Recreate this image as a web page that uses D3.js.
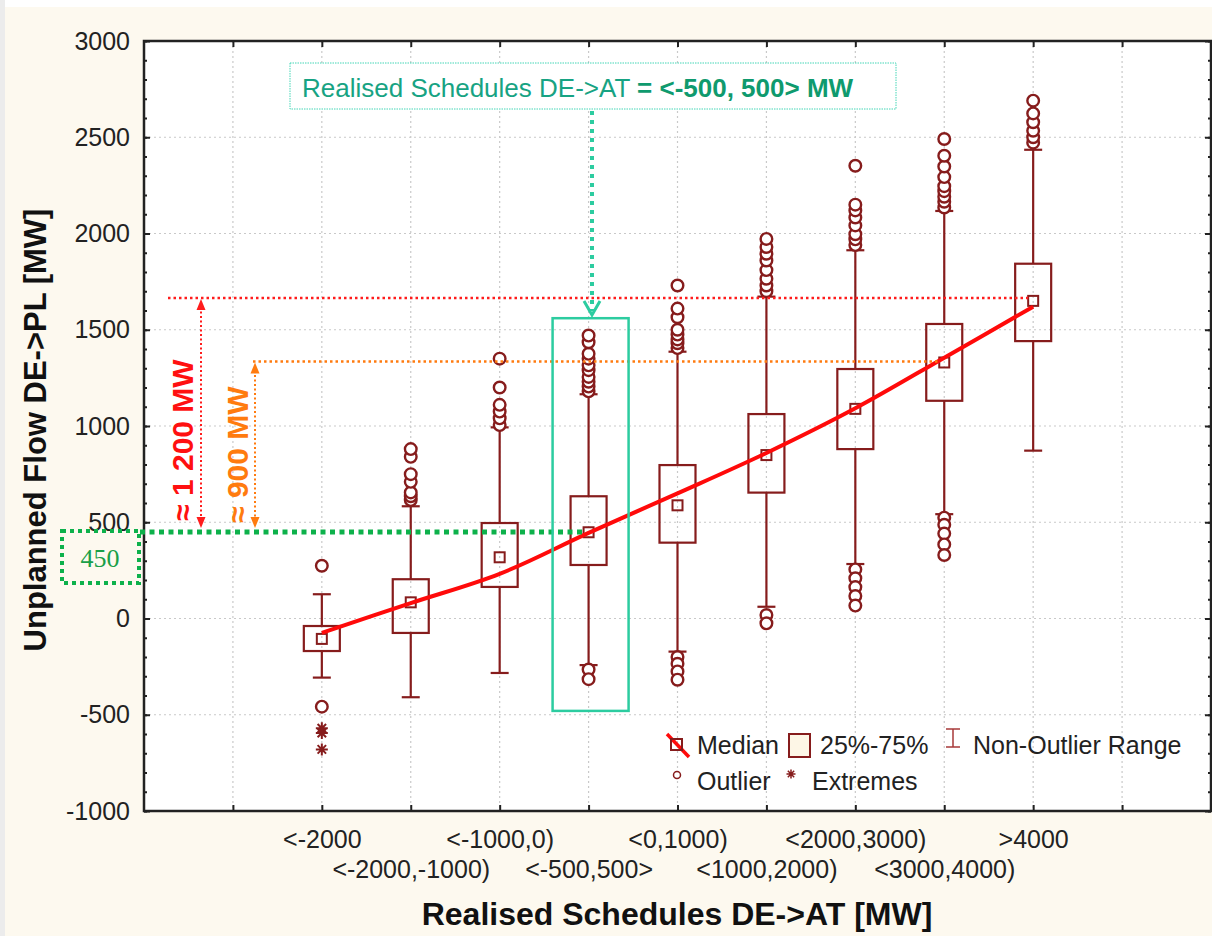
<!DOCTYPE html>
<html>
<head>
<meta charset="utf-8">
<script src="https://cdn.jsdelivr.net/npm/d3@7"></script>
<style>
body { margin: 0; background: #fff; }
svg { display: block; font-family: "Liberation Sans", Arial, sans-serif; }
</style>
</head>
<body>
<div id="chart"></div>
<script>
// categories of realised schedules DE->AT
var categories = ["<-2000", "<-2000,-1000)", "<-1000,0)", "<-500,500>", "<0,1000)",
                  "<1000,2000)", "<2000,3000)", "<3000,4000)", ">4000"];

// box statistics, MW
var lowerQuartile = [-169, -75, 164, 278, 394, 654, 880, 1131, 1441];
var upperQuartile = [-39, 204, 496, 635, 797, 1062, 1296, 1530, 1843];
var medians = [-106, 84, 318, 448, 588, 849, 1089, 1330, 1650];
var whiskerLow = [-307, -409, -283, -242, -172, 61, 283, 542, 872];
var whiskerHigh = [126, 583, 993, 1165, 1386, 1672, 1913, 2117, 2435];

var outliers = [
    [274, -458],
    [615, 635, 655, 710, 750, 840, 880],
    [1005, 1040, 1075, 1110, 1200, 1350],
    [1180, 1205, 1230, 1255, 1290, 1315, 1350, 1375, 1435, 1470, -265, -315],
    [1405, 1430, 1450, 1475, 1500, 1565, 1610, 1730, -200, -235, -275, -318],
    [1700, 1730, 1765, 1810, 1860, 1895, 1930, 1972, 18, -25],
    [1940, 1970, 1996, 2042, 2083, 2120, 2150, 2352, 255, 209, 163, 117, 67],
    [2135, 2165, 2191, 2220, 2246, 2293, 2348, 2404, 2491, 524, 487, 441, 385, 330],
    [2472, 2500, 2534, 2578, 2624, 2690]
];
var extremes = [[-570, -595, -680], [], [], [], [], [], [], [], []];

// smoothed median trend (red line)
var medianTrend = [-75, 80, 232, 445, 650, 860, 1092, 1355, 1620];

var yTicks = [-1000, -500, 0, 500, 1000, 1500, 2000, 2500, 3000];

// reference levels for the annotations
var refTop = 1665;
var refMid = 1335;
var refLow = 450;

var maroon = "#861c1c";
var teal = "#2ccca0";
var green = "#0db14b";

var svg = d3.select("#chart")
            .append("svg")
            .attr("width", 1212)
            .attr("height", 936);

// background
svg.append("rect").attr("width", 1212).attr("height", 936).attr("fill", "#fdf9ef");
svg.append("rect").attr("width", 1212).attr("height", 7).attr("fill", "#ffffff");
svg.append("rect").attr("width", 5).attr("height", 936).attr("fill", "#ececec");

var x = d3.scaleLinear().domain([-2, 10]).range([144, 1211]);
var y = d3.scaleLinear().domain([-1000, 3000]).range([811, 41]);

svg.append("rect")
    .attr("x", 144).attr("y", 41)
    .attr("width", 1067).attr("height", 770)
    .attr("fill", "#ffffff");

// grid
var grid = svg.append("g")
    .attr("stroke", "#c9c9c9")
    .attr("stroke-width", 1.2)
    .attr("stroke-dasharray", "2,3");
grid.selectAll("line.v")
    .data(d3.range(-1, 10))
    .enter().append("line")
    .attr("class", "v")
    .attr("x1", function (d) { return x(d); })
    .attr("x2", function (d) { return x(d); })
    .attr("y1", 41).attr("y2", 811);
grid.selectAll("line.h")
    .data(yTicks.slice(1, -1))
    .enter().append("line")
    .attr("class", "h")
    .attr("y1", function (d) { return y(d); })
    .attr("y2", function (d) { return y(d); })
    .attr("x1", 144).attr("x2", 1211);

// axes
function styleAxis(g) {
    g.select(".domain").remove();
    g.selectAll(".tick line").attr("stroke", "#222").attr("stroke-width", 2);
    g.selectAll(".tick text").attr("fill", "#222").style("font-size", "25px")
        .style("font-family", "'Liberation Sans', Arial, sans-serif");
}

var minorTicks = d3.range(-1000, 3001, 100);

svg.append("g").attr("transform", "translate(144,0)")
    .call(d3.axisLeft(y).tickValues(minorTicks).tickSize(-3).tickFormat(""))
    .call(styleAxis);
svg.append("g").attr("transform", "translate(144,0)")
    .call(d3.axisLeft(y).tickValues(yTicks).tickSizeInner(-6).tickSizeOuter(0).tickPadding(14)
        .tickFormat(function (d) { return String(d); }))
    .call(styleAxis);
svg.append("g").attr("transform", "translate(1211,0)")
    .call(d3.axisRight(y).tickValues(minorTicks).tickSize(-3).tickFormat(""))
    .call(styleAxis);
svg.append("g").attr("transform", "translate(1211,0)")
    .call(d3.axisRight(y).tickValues(yTicks).tickSize(-6).tickFormat(""))
    .call(styleAxis);
svg.append("g").attr("transform", "translate(0,41)")
    .call(d3.axisTop(x).tickValues(d3.range(-1, 10)).tickSize(-6).tickFormat(""))
    .call(styleAxis);

var xAxis = svg.append("g").attr("transform", "translate(0,811)")
    .call(d3.axisBottom(x).tickValues(d3.range(-1, 10)).tickSizeInner(-6).tickSizeOuter(0)
        .tickPadding(19)
        .tickFormat(function (d) { return categories[d] || ""; }))
    .call(styleAxis);
xAxis.selectAll(".tick text")
    .attr("y", function (d) { return d % 2 ? 49 : 19; });

// frame
svg.append("rect")
    .attr("x", 144).attr("y", 41)
    .attr("width", 1067).attr("height", 770)
    .attr("fill", "none")
    .attr("stroke", "#222")
    .attr("stroke-width", 2.5);

// axis titles
svg.append("text")
    .attr("x", 677).attr("y", 925)
    .attr("text-anchor", "middle")
    .style("font-size", "32px").style("font-weight", "bold")
    .attr("fill", "#111")
    .text("Realised Schedules DE->AT [MW]");
svg.append("text")
    .attr("transform", "translate(46,430) rotate(-90)")
    .attr("text-anchor", "middle")
    .style("font-size", "31px").style("font-weight", "bold")
    .attr("fill", "#111")
    .text("Unplanned Flow DE->PL [MW]");

// box plots
var boxW = 36, capW = 18, sq = 10;
var boxes = svg.selectAll("g.box")
    .data(categories)
    .enter().append("g")
    .attr("class", "box")
    .attr("stroke", maroon)
    .attr("stroke-width", 2.2)
    .attr("fill", "none");

boxes.append("line")
    .attr("x1", function (d, i) { return x(i); })
    .attr("x2", function (d, i) { return x(i); })
    .attr("y1", function (d, i) { return y(upperQuartile[i]); })
    .attr("y2", function (d, i) { return y(whiskerHigh[i]); });
boxes.append("line")
    .attr("x1", function (d, i) { return x(i); })
    .attr("x2", function (d, i) { return x(i); })
    .attr("y1", function (d, i) { return y(lowerQuartile[i]); })
    .attr("y2", function (d, i) { return y(whiskerLow[i]); });
boxes.append("line")
    .attr("x1", function (d, i) { return x(i) - capW / 2; })
    .attr("x2", function (d, i) { return x(i) + capW / 2; })
    .attr("y1", function (d, i) { return y(whiskerHigh[i]); })
    .attr("y2", function (d, i) { return y(whiskerHigh[i]); });
boxes.append("line")
    .attr("x1", function (d, i) { return x(i) - capW / 2; })
    .attr("x2", function (d, i) { return x(i) + capW / 2; })
    .attr("y1", function (d, i) { return y(whiskerLow[i]); })
    .attr("y2", function (d, i) { return y(whiskerLow[i]); });
boxes.append("rect")
    .attr("x", function (d, i) { return x(i) - boxW / 2; })
    .attr("width", boxW)
    .attr("y", function (d, i) { return y(upperQuartile[i]); })
    .attr("height", function (d, i) { return y(lowerQuartile[i]) - y(upperQuartile[i]); });

boxes.each(function (d, i) {
    d3.select(this).selectAll("circle")
        .data(outliers[i])
        .enter().append("circle")
        .attr("cx", x(i))
        .attr("cy", function (v) { return y(v); })
        .attr("r", 5.8)
        .attr("stroke-width", 2.4)
        .attr("fill", "#fff");
    d3.select(this).selectAll("path.ext")
        .data(extremes[i])
        .enter().append("path")
        .attr("class", "ext")
        .attr("stroke-width", 2)
        .attr("d", function (v) { return star(x(i), y(v), 6); });
});

function star(cx, cy, r) {
    var p = d3.path();
    var k = r * 0.7071;
    p.moveTo(cx, cy - r); p.lineTo(cx, cy + r);
    p.moveTo(cx - r, cy); p.lineTo(cx + r, cy);
    p.moveTo(cx - k, cy - k); p.lineTo(cx + k, cy + k);
    p.moveTo(cx - k, cy + k); p.lineTo(cx + k, cy - k);
    return p.toString();
}

// median trend line
var trend = d3.line()
    .x(function (d, i) { return x(i); })
    .y(function (d) { return y(d); })
    .curve(d3.curveCatmullRom);
svg.append("path")
    .datum(medianTrend)
    .attr("d", trend)
    .attr("fill", "none")
    .attr("stroke", "#ff0a0a")
    .attr("stroke-width", 4);

boxes.append("rect")
    .attr("x", function (d, i) { return x(i) - sq / 2; })
    .attr("y", function (d, i) { return y(medians[i]) - sq / 2; })
    .attr("width", sq).attr("height", sq)
    .attr("stroke-width", 2);

// annotations: reference levels
svg.append("line")
    .attr("x1", 168).attr("x2", x(8) - 5)
    .attr("y1", y(refTop)).attr("y2", y(refTop))
    .attr("stroke", "#ff1c1c").attr("stroke-width", 2.5).attr("stroke-dasharray", "2.5,3");
svg.append("line")
    .attr("x1", 253).attr("x2", x(7) - 5)
    .attr("y1", y(refMid)).attr("y2", y(refMid))
    .attr("stroke", "#ff7b0f").attr("stroke-width", 2.5).attr("stroke-dasharray", "2.5,3");

function dottedArrow(ax, yTop, yBot, color) {
    svg.append("line")
        .attr("x1", ax).attr("x2", ax)
        .attr("y1", yTop + 8).attr("y2", yBot - 8)
        .attr("stroke", color).attr("stroke-width", 2).attr("stroke-dasharray", "2,2.5");
    svg.append("path")
        .attr("d", "M" + ax + "," + yTop + "l-4.5,11h9z")
        .attr("fill", color);
    svg.append("path")
        .attr("d", "M" + ax + "," + yBot + "l-4.5,-11h9z")
        .attr("fill", color);
}
dottedArrow(201, y(refTop) + 1, y(refLow) - 4, "#ff1c1c");
dottedArrow(255, y(refMid) + 1, y(refLow) - 4, "#ff7b0f");

svg.append("text")
    .attr("transform", "translate(193," + (y(refLow) - 11) + ") rotate(-90)")
    .style("font-size", "30px").style("font-weight", "bold")
    .attr("fill", "#ff1010")
    .text("\u2248 1 200 MW");
svg.append("text")
    .attr("transform", "translate(248," + (y(refLow) - 9) + ") rotate(-90)")
    .style("font-size", "30px").style("font-weight", "bold")
    .attr("fill", "#ff7b0f")
    .text("\u2248 900 MW");

// 450 level
svg.append("line")
    .attr("x1", 140).attr("x2", x(3) - 6)
    .attr("y1", y(refLow)).attr("y2", y(refLow))
    .attr("stroke", green).attr("stroke-width", 5).attr("stroke-dasharray", "5,4.5");
svg.append("rect")
    .attr("x", 62).attr("y", y(refLow) - 1)
    .attr("width", 77).attr("height", 52)
    .attr("fill", "none")
    .attr("stroke", green).attr("stroke-width", 4).attr("stroke-dasharray", "4,4");
svg.append("text")
    .attr("x", 100).attr("y", y(refLow) + 35)
    .attr("text-anchor", "middle")
    .style("font-family", "'Liberation Serif', 'Times New Roman', serif")
    .style("font-size", "26px")
    .attr("fill", "#1a9f48")
    .text(refLow);

// highlighted category
svg.append("rect")
    .attr("x", x(3) - 36).attr("width", 76)
    .attr("y", y(1560)).attr("height", y(-480) - y(1560))
    .attr("fill", "none")
    .attr("stroke", teal).attr("stroke-width", 2.5);

svg.append("rect")
    .attr("x", 290).attr("y", 63)
    .attr("width", 606).attr("height", 46)
    .attr("fill", "#fff")
    .attr("stroke", "#45d6b6").attr("stroke-width", 1).attr("stroke-dasharray", "1.5,1");
var note = svg.append("text")
    .attr("x", 302).attr("y", 97)
    .style("font-size", "26px");
note.append("tspan").attr("fill", "#17a383").text("Realised Schedules DE->AT ");
note.append("tspan").attr("fill", "#0f9a6e").style("font-weight", "bold").text("= <-500, 500> MW");

svg.append("line")
    .attr("x1", 592).attr("x2", 592)
    .attr("y1", 111).attr("y2", 311)
    .attr("stroke", teal).attr("stroke-width", 4).attr("stroke-dasharray", "4,5");
svg.append("path")
    .attr("d", "M584,301L592,315L600,301")
    .attr("fill", "none")
    .attr("stroke", teal).attr("stroke-width", 3);

// legend
var legend = svg.append("g").style("font-size", "25px").attr("fill", "#222");
legend.append("line")
    .attr("x1", 667).attr("y1", 734).attr("x2", 689).attr("y2", 757)
    .attr("stroke", "#ff0a0a").attr("stroke-width", 3.5);
legend.append("rect")
    .attr("x", 671).attr("y", 739).attr("width", 11).attr("height", 11)
    .attr("fill", "none").attr("stroke", maroon).attr("stroke-width", 2);
legend.append("text").attr("x", 697).attr("y", 754).text("Median");
legend.append("rect")
    .attr("x", 789).attr("y", 734).attr("width", 21).attr("height", 23)
    .attr("fill", "#fdf6e6").attr("stroke", maroon).attr("stroke-width", 2);
legend.append("text").attr("x", 820).attr("y", 754).text("25%-75%");
legend.append("path")
    .attr("d", "M946,729H960M953,729V747M946,747H960")
    .attr("fill", "none").attr("stroke", "#a83a3a").attr("stroke-width", 1.5);
legend.append("text").attr("x", 973).attr("y", 754).text("Non-Outlier Range");
legend.append("circle")
    .attr("cx", 677).attr("cy", 775).attr("r", 3.5)
    .attr("fill", "#fff").attr("stroke", maroon).attr("stroke-width", 1.5);
legend.append("text").attr("x", 697).attr("y", 790).text("Outlier");
legend.append("path")
    .attr("d", star(791, 774, 4.5))
    .attr("stroke", maroon).attr("stroke-width", 1.5);
legend.append("text").attr("x", 812).attr("y", 790).text("Extremes");
</script>
</body>
</html>
